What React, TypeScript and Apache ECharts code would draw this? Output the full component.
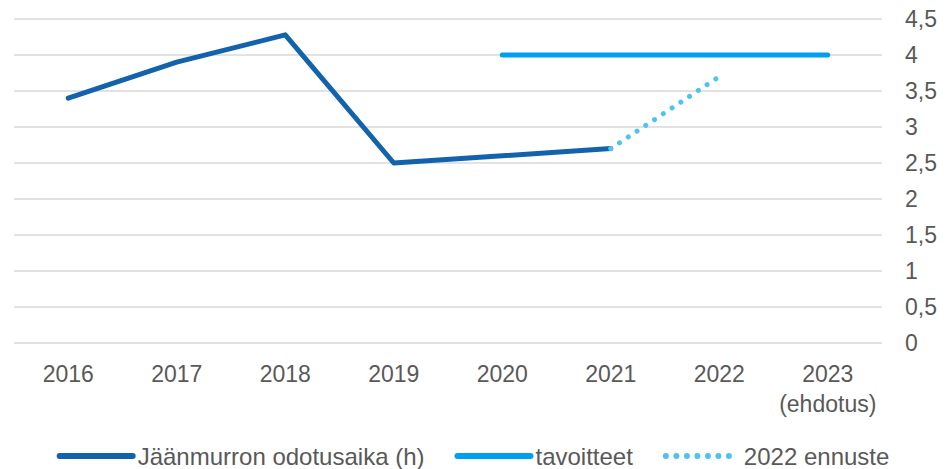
import React, { useEffect, useRef } from "react";
import * as echarts from "echarts";

const categories = ["2016", "2017", "2018", "2019", "2020", "2021", "2022", "2023\n(ehdotus)"];
const waitTime = [3.4, 3.9, 4.28, 2.5, 2.6, 2.7, null, null];
const targets = [null, null, null, null, 4, 4, 4, 4];
const forecast = [null, null, null, null, null, 2.7, 3.7, null];

const FONT = "Liberation Sans";
const TEXT = "#595959";

export default function App() {
  const ref = useRef<HTMLDivElement>(null);
  useEffect(() => {
    if (!ref.current) return;
    const chart = echarts.init(ref.current, null, { renderer: "svg" });
    chart.setOption({
      animation: false,
      textStyle: { fontFamily: FONT },
      grid: { left: 14, right: 64, top: 19, bottom: 126, containLabel: false },
      xAxis: {
        type: "category",
        data: categories,
        boundaryGap: true,
        axisLine: { show: false },
        axisTick: { show: false },
        axisLabel: {
          color: TEXT,
          fontSize: 23,
          fontFamily: FONT,
          lineHeight: 30,
          margin: 16,
          interval: 0,
        },
      },
      yAxis: {
        type: "value",
        position: "right",
        min: 0,
        max: 4.5,
        interval: 0.5,
        axisLine: { show: false },
        axisTick: { show: false },
        splitLine: { lineStyle: { color: "#d9d9d9", width: 1.5 } },
        axisLabel: {
          color: TEXT,
          fontSize: 23,
          fontFamily: FONT,
          margin: 23,
          formatter: (v: number) => String(v).replace(".", ","),
        },
      },
      legend: {
        left: "center",
        top: 438,
        itemWidth: 73,
        itemHeight: 24,
        itemGap: 30,
        itemStyle: { opacity: 0 },
        lineStyle: { width: 6 },
        textStyle: { color: TEXT, fontSize: 24, fontFamily: FONT, lineHeight: 26 },
        data: ["Jäänmurron odotusaika (h)", "tavoitteet", "2022 ennuste"],
      },
      series: [
        {
          name: "Jäänmurron odotusaika (h)",
          type: "line",
          data: waitTime,
          symbol: "none",
          lineStyle: { color: "#1263ac", width: 5, cap: "round", join: "round" },
          itemStyle: { color: "#1263ac" },
        },
        {
          name: "tavoitteet",
          type: "line",
          data: targets,
          symbol: "none",
          lineStyle: { color: "#00a0f0", width: 5, cap: "round", join: "round" },
          itemStyle: { color: "#00a0f0" },
        },
        {
          name: "2022 ennuste",
          type: "line",
          data: forecast,
          symbol: "none",
          lineStyle: { color: "#4fc3f0", width: 5, type: [0.01, 10.5], cap: "round" },
          itemStyle: { color: "#4fc3f0" },
        },
      ],
    });
    return () => chart.dispose();
  }, []);
  return <div ref={ref} style={{ width: 946, height: 469, position: "absolute", left: 0, top: 0 }} />;
}
